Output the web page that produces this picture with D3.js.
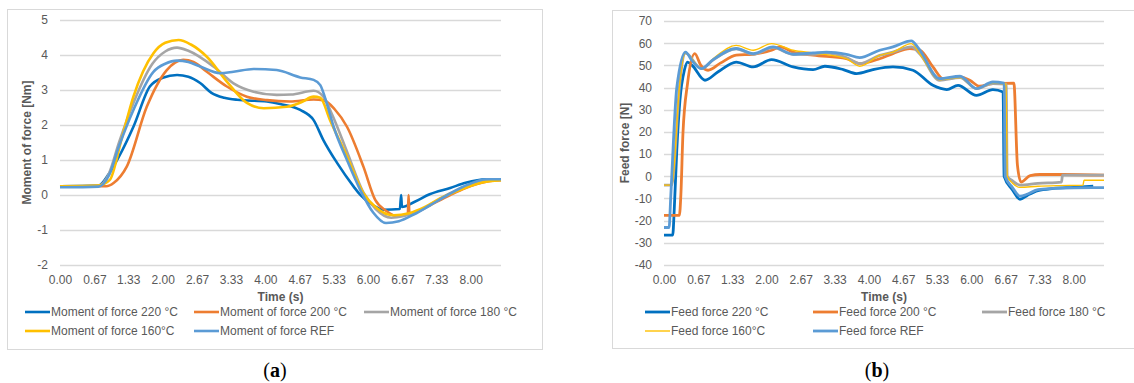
<!DOCTYPE html>
<html>
<head>
<meta charset="utf-8">
<script src="https://d3js.org/d3.v7.min.js"></script>
<style>
    body { margin: 0; background: #fff; }
    svg { display: block; }
    text { font-family: "Liberation Sans", Arial, sans-serif; fill: #595959; }
    .cap { font-family: "Liberation Serif", "Times New Roman", serif; fill: #000; }
</style>
</head>
<body>
<svg width="1134" height="383"></svg>
<script>
    // tick labels shared by both charts
    var timeTicks = ['0.00', '0.67', '1.33', '2.00', '2.67', '3.33', '4.00', '4.67', '5.33', '6.00', '6.67', '7.33', '8.00'];
    var momentTicks = [-2, -1, 0, 1, 2, 3, 4, 5];
    var forceTicks = [-40, -30, -20, -10, 0, 10, 20, 30, 40, 50, 60, 70];

    // (a) moment of force [Nm]
    var m220T = [0, 0.75, 0.95, 1.15, 1.43, 1.75, 2.0, 2.28, 2.5, 2.73, 2.95, 3.2, 3.45, 4.03, 4.29, 4.68, 4.94, 5.13, 5.4, 5.72, 5.85, 6.1, 6.3, 6.62, 6.645, 6.66, 6.9, 7.2, 7.6, 7.9, 8.3, 8.59];
    var m220V = [0.25, 0.27, 0.6, 1.1, 1.95, 3.1, 3.35, 3.43, 3.38, 3.2, 2.92, 2.78, 2.72, 2.67, 2.6, 2.43, 2.14, 1.57, 0.91, 0.24, 0.0, -0.3, -0.42, -0.4, 0, -0.34, -0.2, 0.02, 0.2, 0.35, 0.45, 0.45];
    var m200T = [0, 0.9, 1.05, 1.3, 1.69, 2.08, 2.4, 2.6, 2.86, 3.25, 3.64, 4.03, 4.48, 4.94, 5.13, 5.35, 5.59, 5.91, 6.14, 6.35, 6.55, 6.775, 6.79, 6.805, 7.0, 7.2, 7.6, 7.9, 8.3, 8.59];
    var m200V = [0.25, 0.25, 0.35, 0.81, 2.52, 3.57, 3.86, 3.8, 3.52, 3.1, 2.81, 2.71, 2.67, 2.73, 2.71, 2.45, 1.95, 0.81, -0.14, -0.45, -0.6, -0.56, 0, -0.53, -0.45, -0.3, 0.0, 0.2, 0.38, 0.42];
    var m180T = [0, 0.75, 0.95, 1.15, 1.43, 1.8, 2.05, 2.28, 2.5, 2.99, 3.38, 3.77, 4.22, 4.5, 4.94, 5.13, 5.3, 5.6, 5.9, 6.15, 6.45, 6.7, 7.0, 7.3, 7.6, 8.0, 8.3, 8.59];
    var m180V = [0.25, 0.27, 0.6, 1.5, 2.63, 3.75, 4.1, 4.21, 4.12, 3.67, 3.19, 2.95, 2.86, 2.87, 2.98, 2.81, 2.3, 1.2, 0.1, -0.4, -0.65, -0.6, -0.45, -0.2, 0.05, 0.3, 0.42, 0.43];
    var m160T = [0, 0.75, 0.97, 1.2, 1.43, 1.82, 2.05, 2.31, 2.55, 2.86, 3.25, 3.64, 3.97, 4.42, 4.7, 4.94, 5.07, 5.26, 5.59, 5.91, 6.15, 6.5, 6.8, 7.1, 7.4, 7.8, 8.2, 8.59];
    var m160V = [0.25, 0.27, 0.43, 1.6, 2.81, 4.05, 4.35, 4.43, 4.3, 3.95, 3.24, 2.63, 2.48, 2.52, 2.65, 2.81, 2.78, 2.14, 1.1, 0.05, -0.35, -0.58, -0.52, -0.35, -0.1, 0.15, 0.35, 0.42];
    var mRefT = [0, 0.75, 0.95, 1.15, 1.43, 1.82, 2.05, 2.28, 2.5, 2.73, 3.12, 3.38, 3.77, 4.22, 4.68, 4.94, 5.07, 5.2, 5.33, 5.59, 5.85, 6.1, 6.35, 6.6, 6.9, 7.2, 7.55, 7.95, 8.3, 8.59];
    var mRefV = [0.22, 0.24, 0.55, 1.4, 2.43, 3.52, 3.75, 3.84, 3.8, 3.67, 3.48, 3.52, 3.6, 3.57, 3.36, 3.29, 3.14, 2.6, 1.95, 1.0, 0.14, -0.5, -0.8, -0.75, -0.55, -0.3, 0.0, 0.3, 0.45, 0.45];

    // (b) feed force [N]
    var f220T = [0, 0.17, 0.2, 0.25, 0.31, 0.4, 0.46, 0.55, 0.8, 1.05, 1.41, 1.74, 2.1, 2.52, 2.91, 3.14, 3.5, 3.76, 4.08, 4.47, 4.86, 5.25, 5.52, 5.74, 6.1, 6.42, 6.62, 6.64, 6.8, 6.95, 7.1, 7.3, 7.6, 8.0, 8.38];
    var f220V = [-26.5, -26.5, -15, 12, 34, 48, 51.5, 50, 43.3, 47, 51.5, 49.3, 52.6, 49.3, 48.1, 49.6, 48.1, 46.3, 48.1, 49.3, 47.8, 41, 39.1, 41, 36.5, 39.1, 38, 0, -6, -10.4, -8.5, -6.5, -5.5, -5, -4.4];
    var f200T = [0, 0.3, 0.33, 0.37, 0.46, 0.6, 0.72, 0.86, 1.1, 1.41, 1.74, 2.1, 2.27, 2.52, 2.91, 3.56, 3.82, 4.21, 4.47, 4.8, 5.0, 5.25, 5.45, 5.78, 5.97, 6.16, 6.42, 6.83, 6.9, 6.97, 7.15, 7.34, 7.8, 8.59];
    var f200V = [-17.6, -17.6, -8, 19.3, 41.9, 55.3, 50, 47.8, 51, 54.6, 55, 56.8, 58.3, 56, 54.6, 53, 50.8, 53, 55.3, 57.6, 56.8, 49.3, 44, 44.8, 43.3, 40.6, 41.8, 42, 5, -2.6, 0.3, 0.8, 0.8, 0.5];
    var f180T = [0, 0.15, 0.18, 0.3, 0.42, 0.73, 0.96, 1.41, 1.74, 2.13, 2.52, 2.91, 3.17, 3.56, 3.82, 4.21, 4.47, 4.83, 5.0, 5.38, 5.78, 6.1, 6.42, 6.68, 6.7, 6.8, 6.95, 7.3, 7.76, 7.78, 8.59];
    var f180V = [-4, -4, 0, 40, 55.5, 48.5, 52.5, 57.5, 55, 58, 55, 55, 55.5, 53.5, 50.8, 54.5, 56, 58.3, 55, 43.3, 44.5, 39.5, 41.8, 41.5, 0, -2, -4, -3.2, -2.6, 0.5, 0.5];
    var f160T = [0, 0.15, 0.18, 0.3, 0.42, 0.73, 0.96, 1.41, 1.74, 2.1, 2.52, 2.91, 3.56, 3.82, 4.21, 4.47, 4.83, 5.0, 5.38, 5.78, 6.1, 6.42, 6.68, 6.7, 6.8, 6.95, 7.3, 7.7, 8.18, 8.2, 8.59];
    var f160V = [-4, -4, 0, 40, 55.5, 48.5, 53, 59, 56.8, 59.8, 56.8, 55.6, 53, 49.6, 54.5, 56, 59.8, 55, 43.5, 44.5, 39.5, 42, 41.5, 0, -3, -5, -4.5, -4.2, -4, -1.8, -1.8];
    var fRefT = [0, 0.1, 0.13, 0.25, 0.42, 0.55, 0.73, 0.96, 1.41, 1.74, 2.13, 2.52, 2.91, 3.17, 3.56, 3.82, 4.21, 4.47, 4.83, 4.96, 5.38, 5.78, 6.1, 6.42, 6.64, 6.66, 6.8, 6.95, 7.1, 7.3, 7.6, 8.0, 8.59];
    var fRefV = [-23.1, -23.1, -10, 40, 56, 52, 48.5, 52.6, 57.6, 55.3, 58.3, 55, 55.6, 56, 55, 53.5, 56.8, 58.3, 61, 58, 44, 45.1, 39.5, 42.5, 42, 0, -5, -9, -8, -6, -5.5, -5.2, -5.1];

    var colors = ['#0070C0', '#ED7D31', '#A5A5A5', '#FFC000', '#5B9BD5'];

    var svg = d3.select('svg');

    function zip(ts, vs) {
        return ts.map(function(t, i) { return [t, vs[i]]; });
    }

    function drawChart(cfg) {
        // outer frame
        svg.append('rect')
            .attr('x', cfg.frame[0] + 0.5).attr('y', cfg.frame[1] + 0.5)
            .attr('width', cfg.frame[2]).attr('height', cfg.frame[3])
            .attr('fill', 'none').attr('stroke', '#d9d9d9');

        var x = d3.scaleLinear().domain([0, 8.59]).range([cfg.left, cfg.right]);
        var y = d3.scaleLinear().domain(d3.extent(cfg.yTicks)).range([cfg.bottom, cfg.top]);

        var g = svg.append('g');

        // gridlines
        g.selectAll('line.grid')
            .data(cfg.yTicks)
            .enter()
            .append('line')
            .classed('grid', true)
            .attr('x1', cfg.left).attr('x2', cfg.right)
            .attr('y1', function(d) { return Math.round(y(d)) + 0.5; })
            .attr('y2', function(d) { return Math.round(y(d)) + 0.5; })
            .attr('stroke', '#d9d9d9').attr('stroke-width', 1.3);

        // plain hyphen for negatives, like Excel
        var yAxis = d3.axisLeft(y).tickValues(cfg.yTicks)
            .tickFormat(function(d) { return String(d); })
            .tickSize(0).tickPadding(12);
        g.append('g')
            .attr('transform', 'translate(' + cfg.left + ',0)')
            .call(yAxis)
            .call(function(a) { a.select('.domain').remove(); })
            .selectAll('text')
            .style('font-size', '12px').attr('fill', '#595959');

        var xAxis = d3.axisBottom(x)
            .tickValues(timeTicks.map(Number))
            .tickFormat(function(d, i) { return timeTicks[i]; })
            .tickSize(0).tickPadding(10);
        g.append('g')
            .attr('transform', 'translate(0,' + cfg.bottom + ')')
            .call(xAxis)
            .call(function(a) { a.select('.domain').remove(); })
            .selectAll('text')
            .style('font-size', '12px').attr('fill', '#595959');

        // axis titles
        g.append('text')
            .attr('x', (cfg.left + cfg.right) / 2).attr('y', 301)
            .attr('text-anchor', 'middle')
            .style('font-size', '12px').style('font-weight', 'bold')
            .text('Time (s)');
        g.append('text')
            .attr('transform', 'translate(' + cfg.yTitleX + ',' + (cfg.top + cfg.bottom) / 2 + ') rotate(-90)')
            .attr('text-anchor', 'middle')
            .style('font-size', '12px').style('font-weight', 'bold')
            .text(cfg.yTitle);

        var line = d3.line()
            .x(function(d) { return x(d[0]); })
            .y(function(d) { return y(d[1]); })
            .curve(d3.curveMonotoneX);

        g.selectAll('path.series')
            .data(cfg.series)
            .enter()
            .append('path')
            .classed('series', true)
            .attr('d', function(d) { return line(zip(d.t, d.v)); })
            .attr('fill', 'none')
            .attr('stroke', function(d, i) { return colors[i]; })
            .attr('stroke-width', function(d) { return d.w; })
            .attr('stroke-linejoin', 'round');

        // legend, Excel style: three per row
        var leg = g.selectAll('g.leg')
            .data(cfg.series)
            .enter()
            .append('g')
            .classed('leg', true)
            .attr('transform', function(d, i) {
                return 'translate(' + cfg.legX[i % 3] + ',' + (i < 3 ? 312 : 331) + ')';
            });
        leg.append('line')
            .attr('x1', 0).attr('x2', 25)
            .attr('stroke', function(d, i) { return colors[i]; })
            .attr('stroke-width', function(d) { return d.w; });
        leg.append('text')
            .attr('x', 26).attr('dy', '0.35em')
            .style('font-size', '12px')
            .text(function(d) { return d.name; });

        // caption
        var cap = svg.append('text')
            .classed('cap', true)
            .attr('x', cfg.capX).attr('y', 377)
            .attr('text-anchor', 'middle')
            .style('font-size', '20px');
        cap.append('tspan').text('(');
        cap.append('tspan').style('font-weight', 'bold').text(cfg.cap);
        cap.append('tspan').text(')');
    }

    drawChart({
        frame: [7, 9, 535, 340],
        left: 60, right: 501, top: 20, bottom: 265,
        yTicks: momentTicks,
        yTitle: 'Moment of force [Nm]', yTitleX: 31,
        legX: [25, 194, 364],
        capX: 275, cap: 'a',
        series: [
            {name: 'Moment of force 220 °C', t: m220T, v: m220V, w: 2.6},
            {name: 'Moment of force 200 °C', t: m200T, v: m200V, w: 2.6},
            {name: 'Moment of force 180 °C', t: m180T, v: m180V, w: 2.6},
            {name: 'Moment of force 160°C', t: m160T, v: m160V, w: 2.6},
            {name: 'Moment of force REF', t: mRefT, v: mRefV, w: 2.6}
        ]
    });

    drawChart({
        frame: [612, 10, 540, 338],
        left: 664, right: 1104, top: 21, bottom: 265,
        yTicks: forceTicks,
        yTitle: 'Feed force [N]', yTitleX: 629,
        legX: [645, 813, 982],
        capX: 877, cap: 'b',
        series: [
            {name: 'Feed force 220 °C', t: f220T, v: f220V, w: 2.8},
            {name: 'Feed force 200 °C', t: f200T, v: f200V, w: 2.8},
            {name: 'Feed force 180 °C', t: f180T, v: f180V, w: 2.8},
            {name: 'Feed force 160°C', t: f160T, v: f160V, w: 1.4},
            {name: 'Feed force REF', t: fRefT, v: fRefV, w: 2.8}
        ]
    });
</script>
</body>
</html>
